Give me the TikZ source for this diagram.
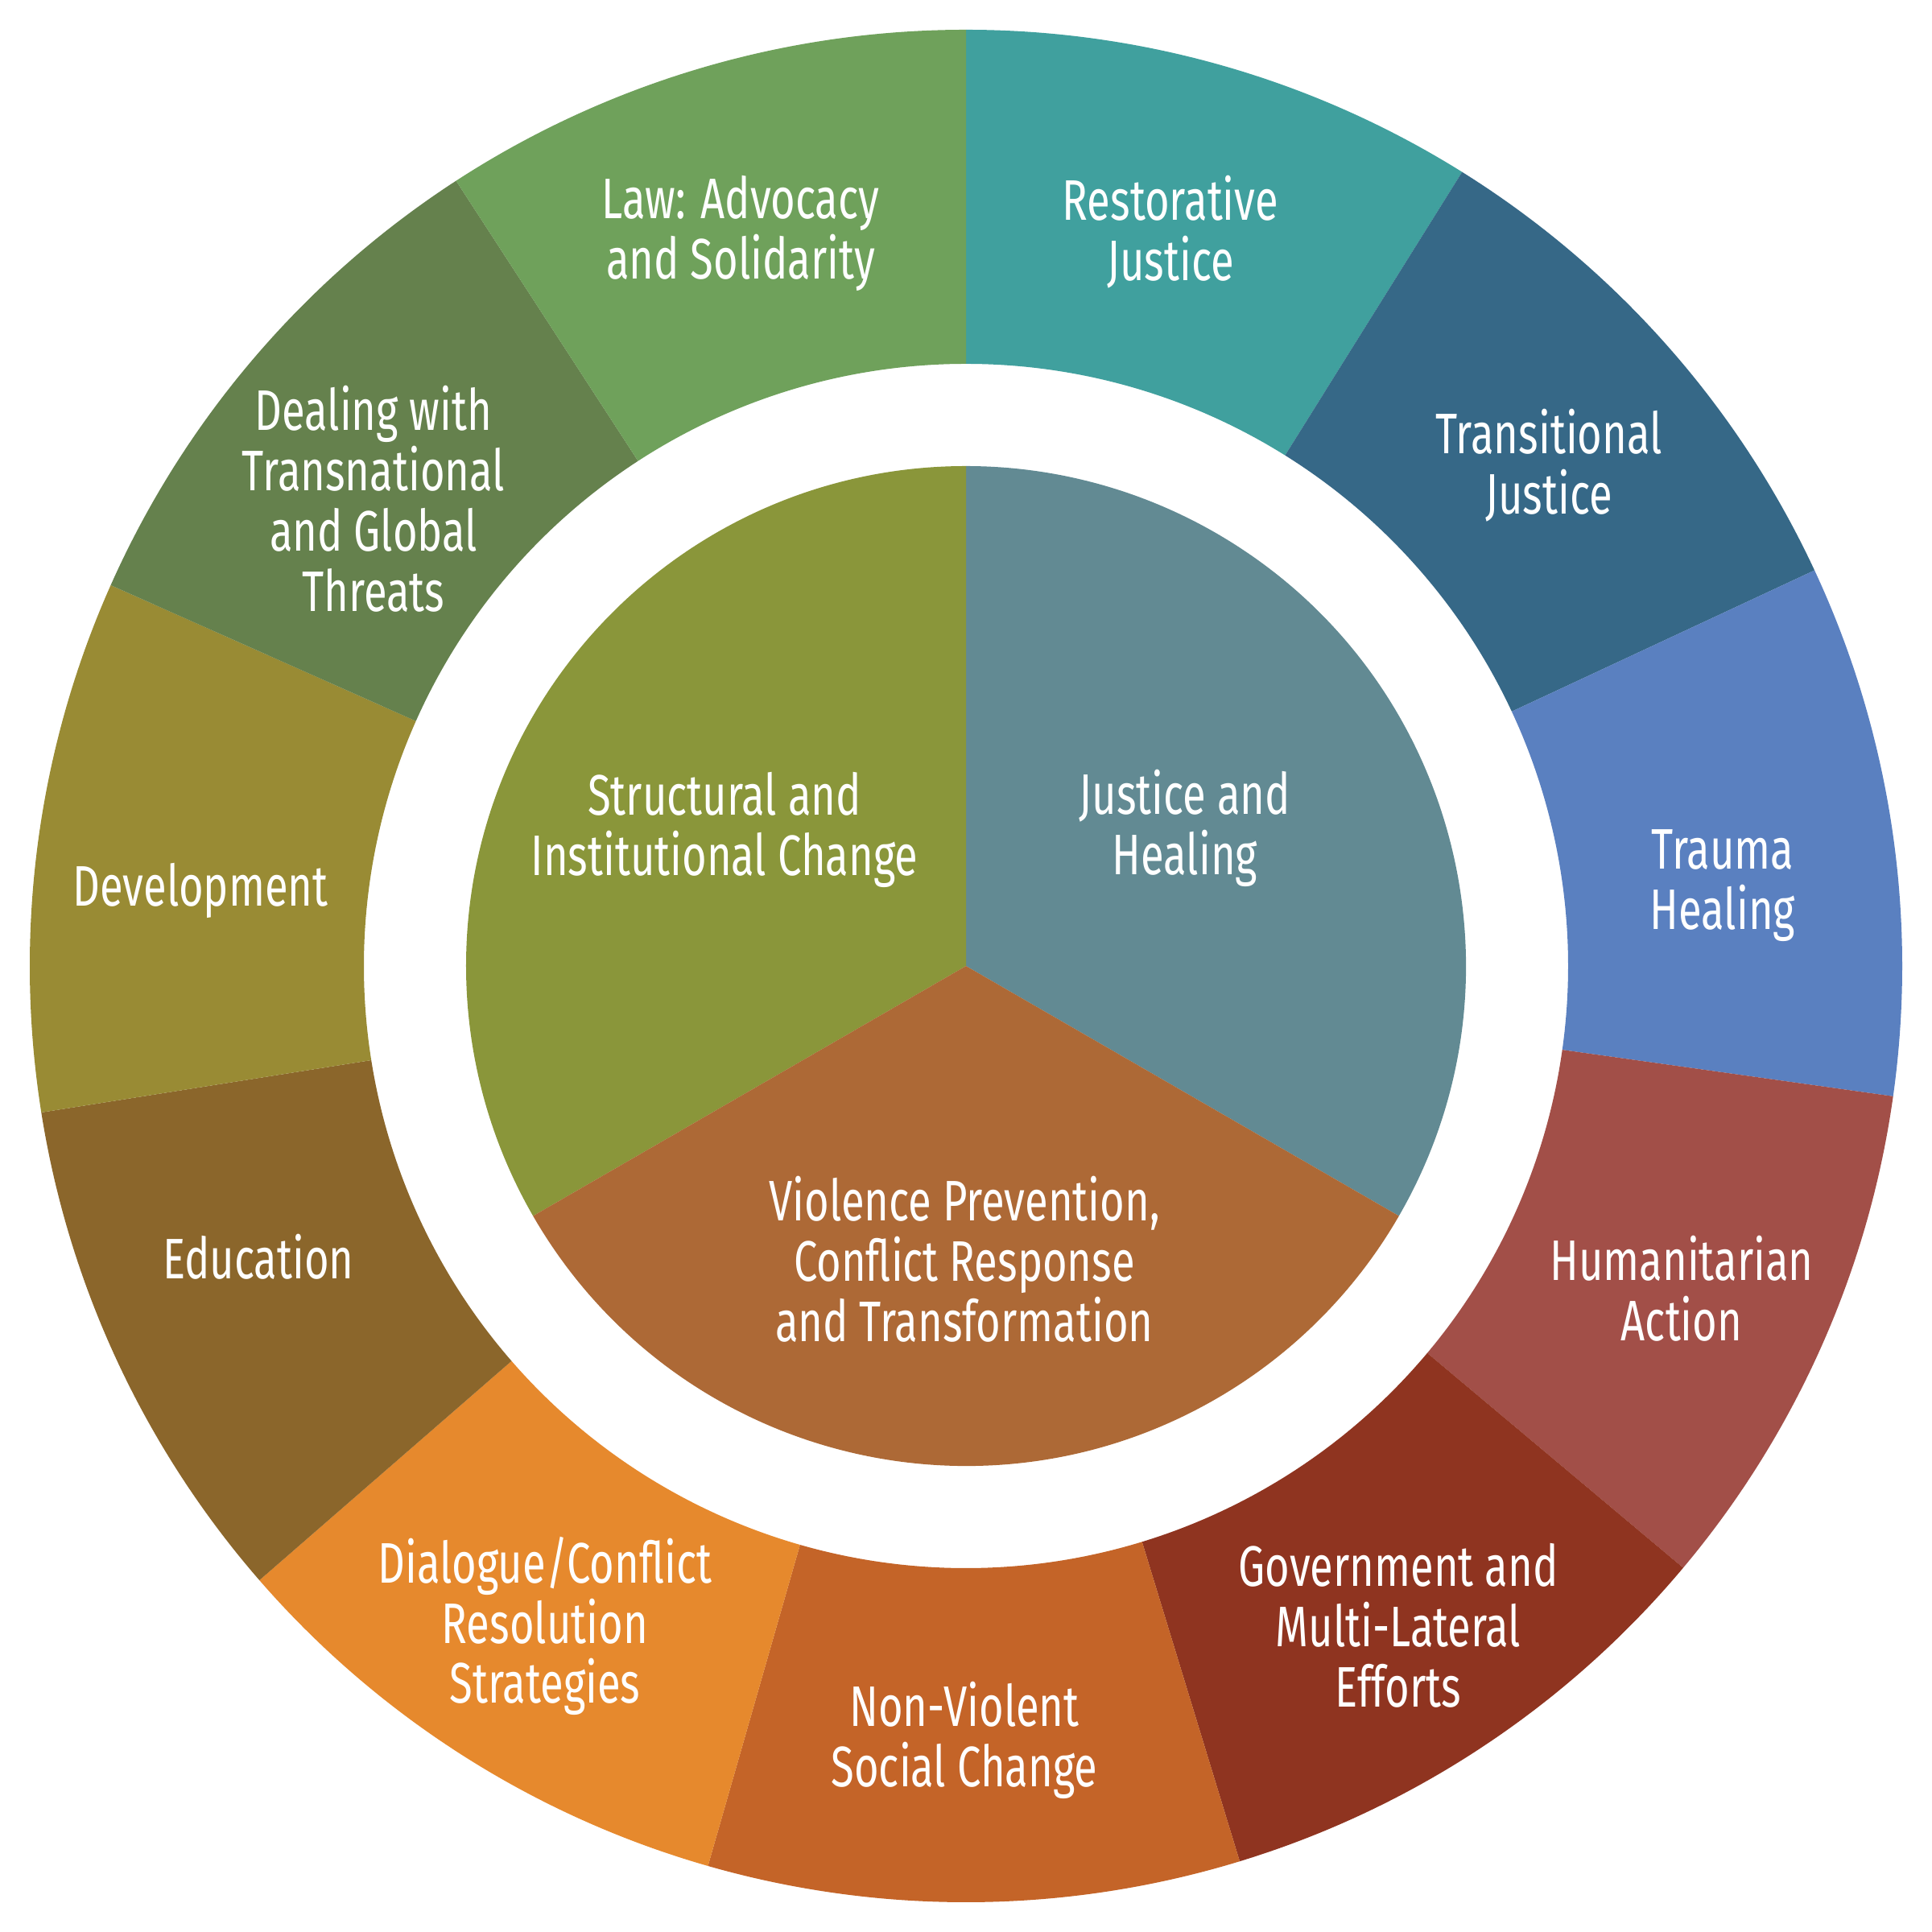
\documentclass[tikz,border=0pt]{standalone}
\usepackage{fontspec}
\setmainfont{Fira Sans}[FakeStretch=0.74]
\definecolor{cRest}{HTML}{40A09E}
\definecolor{cTrans}{HTML}{366887}
\definecolor{cTrauma}{HTML}{5A80C0}
\definecolor{cHum}{HTML}{A24F48}
\definecolor{cGov}{HTML}{8F3420}
\definecolor{cNonV}{HTML}{C46428}
\definecolor{cDial}{HTML}{E6892D}
\definecolor{cEdu}{HTML}{8B662B}
\definecolor{cDev}{HTML}{998B34}
\definecolor{cDeal}{HTML}{65814D}
\definecolor{cLaw}{HTML}{6FA15B}
\definecolor{pJust}{HTML}{628A93}
\definecolor{pStruct}{HTML}{8A963A}
\definecolor{pViol}{HTML}{AD6936}
\begin{document}
\begin{tikzpicture}
\tikzset{
  lbl/.style={text=white, align=center, inner sep=0pt, font=\fontsize{20.2}{21.3}\selectfont},
}
\fill[white] (-12,-12) rectangle (12,12);
\useasboundingbox (-12,-12) rectangle (12,12);
\def\Ro{11.63}
\def\Ri{7.48}
\def\Rp{6.21}
\foreach \aa/\ab/\c in {58/90/cRest,25/58/cTrans,-8/25/cTrauma,-40/-8/cHum,-73/-40/cGov,-106/-73/cNonV,-139/-106/cDial,-171/-139/cEdu,-204/-171/cDev,-237/-204/cDeal,-270/-237/cLaw}{
  \fill[\c] (\aa:\Ro) arc[start angle=\aa, end angle=\ab, radius=\Ro] -- (\ab:\Ri) arc[start angle=\ab, end angle=\aa, radius=\Ri] -- cycle;
}
\fill[pJust] (0,0) -- (-30:\Rp) arc[start angle=-30, end angle=90, radius=\Rp] -- cycle;
\fill[pStruct] (0,0) -- (90:\Rp) arc[start angle=90, end angle=210, radius=\Rp] -- cycle;
\fill[pViol] (0,0) -- (210:\Rp) arc[start angle=210, end angle=330, radius=\Rp] -- cycle;

\node[lbl] (law) at (-2.80,9.10) {Law: Advocacy\\and Solidarity};
\node[lbl] (rest) at (2.54,9.12) {Restorative\\Justice};
\node[lbl] (trans) at (7.24,6.22) {Transitional\\Justice};
\node[lbl] (trauma) at (9.40,1.00) {Trauma\\Healing};
\node[lbl] (hum) at (8.89,-4.01) {Humanitarian\\Action};
\node[lbl] (gov) at (5.37,-8.19) {Government and\\Multi-Lateral\\Efforts};
\node[lbl] (nonv) at (-0.02,-9.62) {Non-Violent\\Social Change};
\node[lbl] (dial) at (-5.23,-8.20) {Dialogue/Conflict\\Resolution\\Strategies};
\node[lbl] (edu) at (-8.79,-3.61) {Education};
\node[lbl] (dev) at (-9.51,0.935) {Development};
\node[lbl] (deal) at (-7.36,5.80) {Dealing with\\Transnational\\and Global\\Threats};
\node[lbl] (just) at (2.72,1.71) {Justice and\\Healing};
\node[lbl] (struct) at (-3.00,1.69) {Structural and\\Institutional Change};
\node[lbl] (viol) at (-0.02,-3.645) {Violence Prevention,\\Conflict Response\\and Transformation};
\end{tikzpicture}
\end{document}
